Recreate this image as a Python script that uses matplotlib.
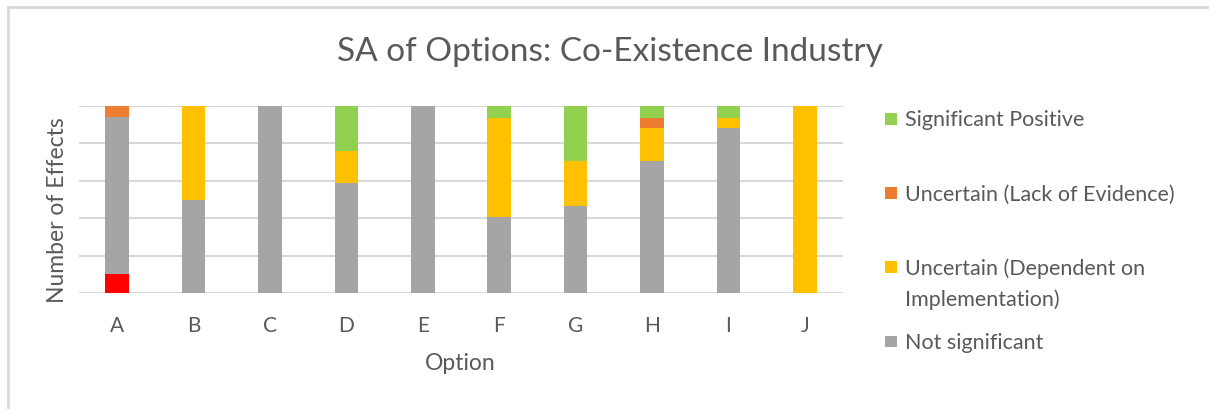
import numpy as np
import matplotlib
matplotlib.use('Agg')
import matplotlib.pyplot as plt
from matplotlib.patches import Rectangle

options = ['A', 'B', 'C', 'D', 'E', 'F', 'G', 'H', 'I', 'J']
# share of effects per option (%)
sig_negative = [10.1, 0, 0, 0, 0, 0, 0, 0, 0, 0]
not_sig = [84.0, 50.0, 100, 58.6, 100, 40.7, 46.4, 70.4, 88.1, 0]
unc_dependent = [0, 50.0, 0, 17.2, 0, 52.9, 24.0, 17.8, 5.5, 100]
unc_lack = [5.9, 0, 0, 0, 0, 0, 0, 5.5, 0, 0]
sig_positive = [0, 0, 0, 24.2, 0, 6.4, 29.6, 6.3, 6.4, 0]

legend_labels = ['Significant Positive', 'Uncertain (Lack of Evidence)',
                 'Uncertain (Dependent on\nImplementation)', 'Not significant']

GREY = '#A5A5A5'; YELLOW = '#FFC000'; ORANGE = '#ED7D31'
GREEN = '#92D050'; RED = '#FF0000'; TXT = '#595959'

plt.rcParams['font.family'] = ['Lato', 'DejaVu Sans']

W, H = 1209, 409
fig = plt.figure(figsize=(W/100, H/100), dpi=100)
ax = fig.add_axes([79/W, 1-293.3/H, (843-79)/W, (293.3-105.7)/H])

x = np.arange(len(options))
bw = 0.31
stack = [(sig_negative, RED), (not_sig, GREY), (unc_dependent, YELLOW),
         (unc_lack, ORANGE), (sig_positive, GREEN)]
bottom = np.zeros(len(options))
for vals, col in stack:
    vals = np.array(vals, dtype=float)
    ax.bar(x, vals, bw, bottom=bottom, color=col, zorder=3)
    bottom += vals

ax.set_xlim(-0.5, 9.5)
ax.set_ylim(0, 100)
ax.set_yticks(np.arange(0, 101, 20))
ax.set_yticklabels([])
ax.grid(axis='y', color='#D9D9D9', linewidth=1.5, zorder=0)
for s in ax.spines.values():
    s.set_visible(False)
ax.tick_params(length=0)
ax.set_xticks(x)
ax.set_xticklabels(options, fontsize=15, color=TXT)
ax.tick_params(axis='x', pad=16)

fig.text(460/W, 1-364/H, 'Option', ha='center', va='center', fontsize=16.5, color=TXT)
fig.text(58/W, 1-210/H, 'Number of Effects', ha='center', va='center',
         rotation=90, fontsize=16.5, color=TXT)
fig.text(610/W, 1-52/H, 'SA of Options: Co-Existence Industry', ha='center',
         va='center', fontsize=24, color=TXT)

# legend drawn by hand, squares line up with the first text line
leg_cols = [GREEN, ORANGE, YELLOW, GREY]
leg_y = [119, 193, 267, 341.5]
for lab, col, yy in zip(legend_labels, leg_cols, leg_y):
    fig.add_artist(Rectangle(((891-5.8)/W, 1-(yy+5.8)/H), 11.6/W, 11.6/H,
                             transform=fig.transFigure, color=col, lw=0))
    fig.text(905/W, 1-(yy-8.5)/H, lab, ha='left', va='top', fontsize=15.5,
             color=TXT, linespacing=1.6)

# chart frame
fig.add_artist(plt.Line2D([8/W, 1], [1-7/H, 1-7/H], transform=fig.transFigure,
                          color='#D9D9D9', lw=2))
fig.add_artist(plt.Line2D([8/W, 8/W], [0, 1-7/H], transform=fig.transFigure,
                          color='#D9D9D9', lw=2))

plt.savefig('out.png', dpi=100, facecolor='white')
